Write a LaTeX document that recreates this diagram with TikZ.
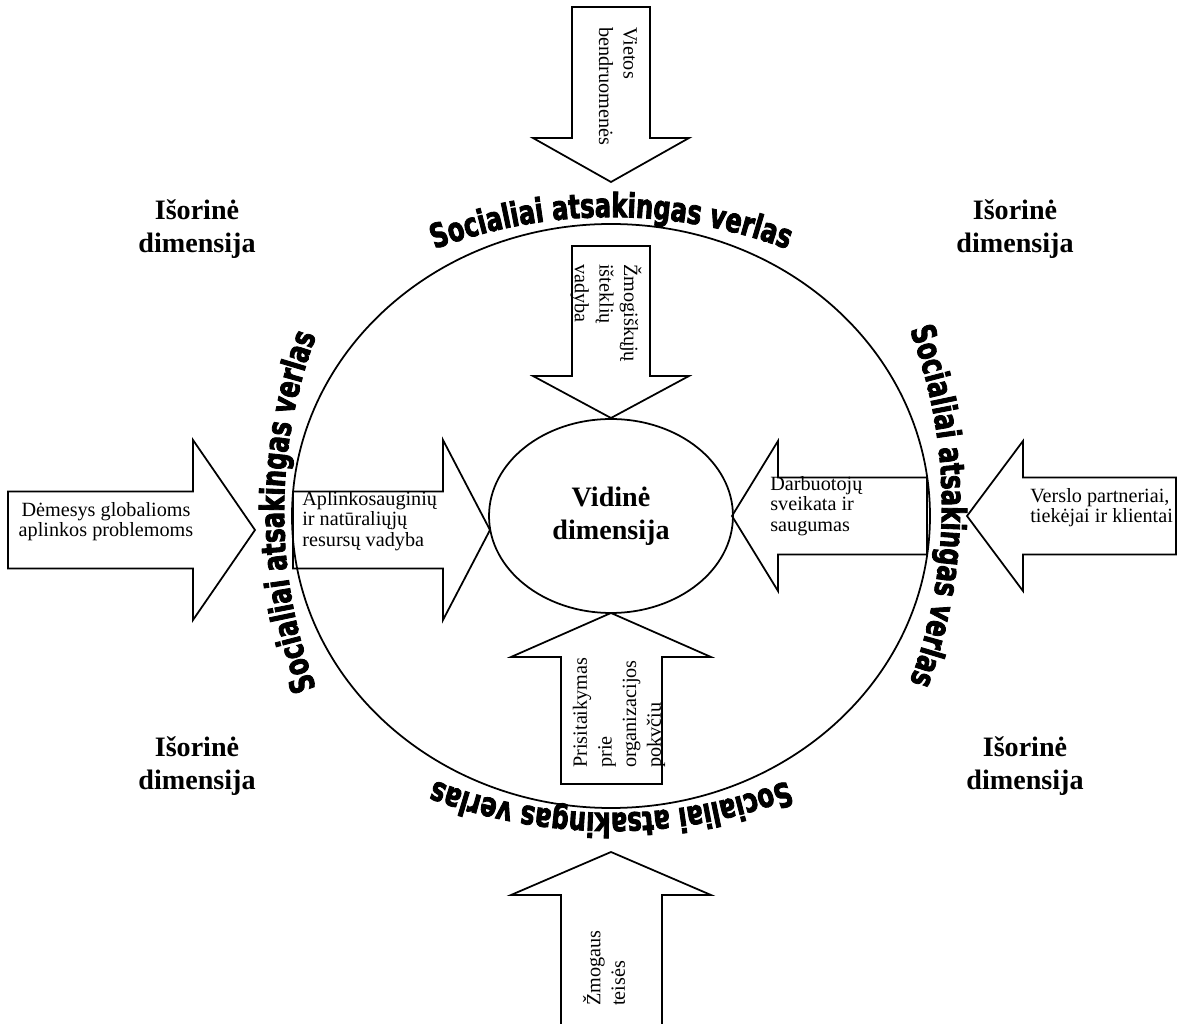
\documentclass[tikz,border=0pt]{standalone}
\usepackage{fontspec}
\setmainfont{Liberation Serif}
\newfontfamily\wordartfont{DejaVu Sans}[FakeStretch=0.72, FakeBold=2.5]
\newcommand{\wordart}{\wordartfont\bfseries\fontsize{19pt}{19pt}\selectfont}
\usetikzlibrary{decorations.text,shapes.geometric}

\tikzset{
  blockarrow/.style={draw, line width=1pt},
  rottext/.style={font=\fontsize{11.5pt}{14pt}\selectfont, align=left, inner sep=0pt},
  plaintext/.style={font=\fontsize{11.5pt}{11.5pt}\selectfont, inner sep=0pt},
  dimtext/.style={font=\fontsize{16pt}{18.5pt}\selectfont\bfseries, align=center},
  arcword/.style={decorate, decoration={text along path, text align=center,
      text={|\wordart|Socialiai atsakingas verlas}}},
}

\begin{document}
\begin{tikzpicture}[x=0.02cm, y=0.02cm]
		\useasboundingbox (-611, -508) rectangle (573, 516);
		
		% outer ring
		\draw[line width=1pt] (0, 0) ellipse [x radius=319, y radius=292];
		\node (vidine) [draw, line width=1pt, ellipse, minimum width=4.88cm, minimum height=3.88cm, dimtext] at (0, 0) {Vidinė\\dimensija};
		
		% vertical arrows
		\draw[blockarrow] (-39, 509) -- (39, 509) -- (39, 378) -- (78, 378) -- (0, 334) -- (-78, 378) -- (-39, 378) -- cycle;
		\draw[blockarrow] (-39, 270) -- (39, 270) -- (39, 140) -- (78, 140) -- (0, 98) -- (-78, 140) -- (-39, 140) -- cycle;
		\draw[blockarrow] (-50, -268) -- (51, -268) -- (51, -141) -- (100, -141) -- (0, -97) -- (-100, -141) -- (-50, -141) -- cycle;
		\draw[blockarrow] (-50, -520) -- (51, -520) -- (51, -379) -- (100, -379) -- (0, -336) -- (-100, -379) -- (-50, -379) -- cycle;
		
		% horizontal arrows
		\draw[blockarrow] (-603, 24.5) -- (-418, 24.5) -- (-418, 76) -- (-356, -14) -- (-418, -104) -- (-418, -52.5) -- (-603, -52.5) -- cycle;
		\draw[blockarrow] (-318, 24.5) -- (-168, 24.5) -- (-168, 76) -- (-121, -14) -- (-168, -104) -- (-168, -52.5) -- (-318, -52.5) -- cycle;
		\draw[blockarrow] (316, 38.5) -- (167, 38.5) -- (167, 75) -- (121, 0) -- (167, -75) -- (167, -38.5) -- (316, -38.5) -- cycle;
		\draw[blockarrow] (565, 38.5) -- (412, 38.5) -- (412, 75) -- (356, 0) -- (412, -75) -- (412, -38.5) -- (565, -38.5) -- cycle;
		
		\node (vietos) [rottext, rotate=-90, anchor=west] at (7, 489) {Vietos\\bendruomenės};
		\node (zmogiskieji) [rottext, rotate=-90, anchor=west] at (-5, 252) {Žmogiškųjų\\išteklių\\vadyba};
		\node (prisitaikymas) [rottext, rotate=90, anchor=west] at (8, -252) {Prisitaikymas\\prie\\organizacijos\\pokvčiu};
		\node (teises) [rottext, rotate=90, anchor=west] at (-7, -490) {Žmogaus\\teisės};
		
		\node (demesys) [plaintext, align=center] at (-505, -6) {Dėmesys globalioms\\aplinkos problemoms};
		\node (aplinkosauga) [plaintext, align=left, anchor=west] at (-309, -5) {Aplinkosauginių\\ir natūraliųjų\\resursų vadyba};
		\node (darbuotojai) [plaintext, align=left, anchor=west] at (159, 10) {Darbuotojų\\sveikata ir\\saugumas};
		\node (partneriai) [plaintext, align=left, anchor=west] at (419, 8) {Verslo partneriai,\\tiekėjai ir klientai};
		
		\node (isorineTL) [dimtext] at (-414, 287) {Išorinė\\dimensija};
		\node (isorineTR) [dimtext] at (404, 287) {Išorinė\\dimensija};
		\node (isorineBL) [dimtext] at (-414, -250) {Išorinė\\dimensija};
		\node (isorineBR) [dimtext] at (414, -250) {Išorinė\\dimensija};
		
		% curved titles round the ring
		\path[arcword] ([shift={(0, -201)}]130:10cm) arc [start angle=130, end angle=50, radius=10cm];
		\path[arcword] ([shift={(-169, 10)}]30:10cm) arc [start angle=30, end angle=-30, radius=10cm];
		\path[arcword] ([shift={(0, 203)}]310:10cm) arc [start angle=310, end angle=230, radius=10cm];
		\path[arcword] ([shift={(173, 4)}]210:10cm) arc [start angle=210, end angle=150, radius=10cm];
	\end{tikzpicture}
\end{document}
